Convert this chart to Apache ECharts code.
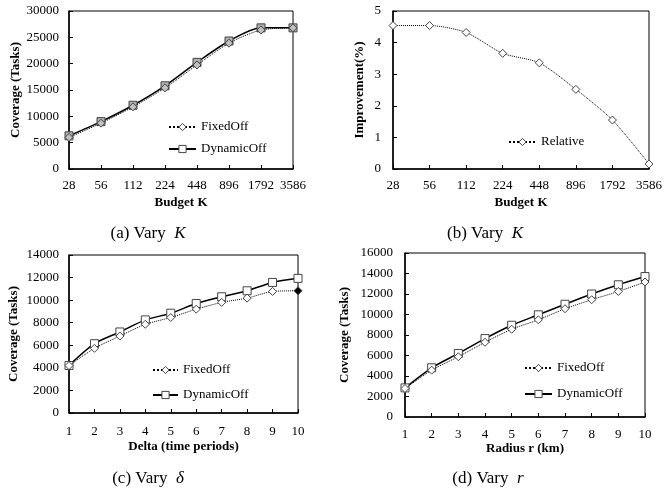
<!DOCTYPE html>
<html>
<head>
<meta charset="utf-8">
<script src="https://cdn.jsdelivr.net/npm/echarts@6/dist/echarts.min.js"></script>
<style>
  html, body { margin: 0; padding: 0; background: #fff; }
  #chart { width: 672px; height: 488px; }
</style>
</head>
<body>
<div id="chart"></div>
<script>
// values
const budgetK = ['28', '56', '112', '224', '448', '896', '1792', '3586'];
const fixedOffK = [6000, 8700, 11800, 15400, 19750, 23900, 26400, 26800];
const dynamicOffK = [6300, 9000, 12100, 15800, 20250, 24300, 26800, 26800];
const relativeK = [4.54, 4.54, 4.32, 3.66, 3.36, 2.52, 1.55, 0.16];

const deltaPeriods = ['1', '2', '3', '4', '5', '6', '7', '8', '9', '10'];
const fixedOffDelta = [4200, 5730, 6820, 7860, 8460, 9200, 9800, 10180, 10770, 10830];
const dynamicOffDelta = [4210, 6140, 7180, 8250, 8840, 9700, 10300, 10830, 11570, 11930];

const radiusR = ['1', '2', '3', '4', '5', '6', '7', '8', '9', '10'];
const fixedOffR = [2780, 4570, 5880, 7290, 8560, 9480, 10560, 11440, 12250, 13170];
const dynamicOffR = [2840, 4800, 6200, 7650, 8950, 9970, 11000, 12000, 12900, 13700];

const FONT = 'Liberation Serif';

const chart = echarts.init(document.getElementById('chart'));

function grid(left, top, right, bottom) {
  return { left, top, right, bottom, show: true, borderColor: '#000', borderWidth: 1, containLabel: false };
}

function xAxis(idx, cats, name, margin, gap) {
  return {
    type: 'category', gridIndex: idx, data: cats, boundaryGap: false,
    name, nameLocation: 'middle', nameGap: gap,
    nameTextStyle: { fontFamily: FONT, fontWeight: 'bold', fontSize: 13, color: '#000' },
    axisLine: { lineStyle: { color: '#000', width: 1.5 } },
    axisTick: { inside: true, length: 4, lineStyle: { color: '#000' } },
    axisLabel: { fontFamily: FONT, fontSize: 13, color: '#000', margin, interval: 0 },
    splitLine: { show: false }
  };
}

function yAxis(idx, max, interval, name, gap, margin) {
  return {
    type: 'value', gridIndex: idx, min: 0, max, interval,
    name, nameLocation: 'middle', nameGap: gap,
    nameTextStyle: { fontFamily: FONT, fontWeight: 'bold', fontSize: 13, color: '#000' },
    axisLine: { show: true, lineStyle: { color: '#000', width: 1.5 } },
    axisTick: { show: true, inside: true, length: 4, lineStyle: { color: '#000' } },
    axisLabel: { fontFamily: FONT, fontSize: 13, color: '#000', margin, formatter: (v) => String(v) },
    splitLine: { show: false }
  };
}

function fixedSeries(name, idx, data, fill) {
  return {
    name, type: 'line', xAxisIndex: idx, yAxisIndex: idx, data,
    smooth: 0.25, symbol: 'diamond', symbolSize: 8,
    lineStyle: { color: '#000', width: 1, type: 'dotted' },
    itemStyle: { color: fill, borderColor: '#444', borderWidth: 1 },
    z: 3
  };
}

function dynamicSeries(name, idx, data, fill) {
  return {
    name, type: 'line', xAxisIndex: idx, yAxisIndex: idx, data,
    smooth: 0.25, symbol: 'rect', symbolSize: 8,
    lineStyle: { color: '#000', width: 1.5 },
    itemStyle: { color: fill, borderColor: '#444', borderWidth: 1 },
    z: 2
  };
}

function legend(names, left, top, gap, width) {
  return {
    data: names, orient: 'vertical', left, top, itemGap: gap,
    itemWidth: width, itemHeight: 9,
    formatter: (n) => n.split('-')[1],
    textStyle: { fontFamily: FONT, fontSize: 13, color: '#000', lineHeight: 14 },
    itemStyle: { color: '#fff', borderColor: '#444', borderWidth: 1 },
    selectedMode: false
  };
}

function caption(text, cx, top) {
  return {
    text, left: cx, top, textAlign: 'center',
    textStyle: {
      fontFamily: FONT, fontSize: 17, fontWeight: 'normal', color: '#000',
      rich: { i: { fontFamily: FONT, fontSize: 17, fontStyle: 'italic', color: '#000' } }
    }
  };
}

// last FixedOff point in (c) is drawn solid
const fixedOffDeltaData = fixedOffDelta.map((v, i) =>
  i === fixedOffDelta.length - 1 ? { value: v, itemStyle: { color: '#000' } } : v);

chart.setOption({
  animation: false,
  title: [
    caption('(a) Vary  {i|K}', 143, 220),
    caption('(b) Vary  {i|K}', 480, 220),
    caption('(c) Vary  {i|δ}', 143, 465),
    caption('(d) Vary  {i|r}', 483, 465)
  ],
  grid: [
    grid(69, 11, 379, 319),
    grid(393, 11, 23, 319),
    grid(69, 255, 374, 75),
    grid(405, 253, 27, 71)
  ],
  xAxis: [
    xAxis(0, budgetK, 'Budget K', 10, 27),
    xAxis(1, budgetK, 'Budget K', 10, 27),
    xAxis(2, deltaPeriods, 'Delta (time periods)', 12, 27),
    xAxis(3, radiusR, 'Radius r (km)', 11, 21)
  ],
  yAxis: [
    yAxis(0, 30000, 5000, 'Coverage (Tasks)', 45, 10),
    yAxis(1, 5, 1, 'Improvement(%)', 27, 12),
    yAxis(2, 14000, 2000, 'Coverage (Tasks)', 49, 10),
    yAxis(3, 16000, 2000, 'Coverage (Tasks)', 54, 12)
  ],
  legend: [
    legend(['a-FixedOff', 'a-DynamicOff'], 163, 115, 8, 27),
    legend(['b-Relative'], 503, 130, 8, 27),
    legend(['c-FixedOff', 'c-DynamicOff'], 147, 358, 11, 25),
    legend(['d-FixedOff', 'd-DynamicOff'], 519, 356, 12, 27)
  ],
  series: [
    dynamicSeries('a-DynamicOff', 0, dynamicOffK, '#b0b0b0'),
    fixedSeries('a-FixedOff', 0, fixedOffK, '#c0c0c0'),
    fixedSeries('b-Relative', 1, relativeK, '#fff'),
    dynamicSeries('c-DynamicOff', 2, dynamicOffDelta, '#fff'),
    fixedSeries('c-FixedOff', 2, fixedOffDeltaData, '#fff'),
    dynamicSeries('d-DynamicOff', 3, dynamicOffR, '#fff'),
    fixedSeries('d-FixedOff', 3, fixedOffR, '#fff')
  ]
});
</script>
</body>
</html>
